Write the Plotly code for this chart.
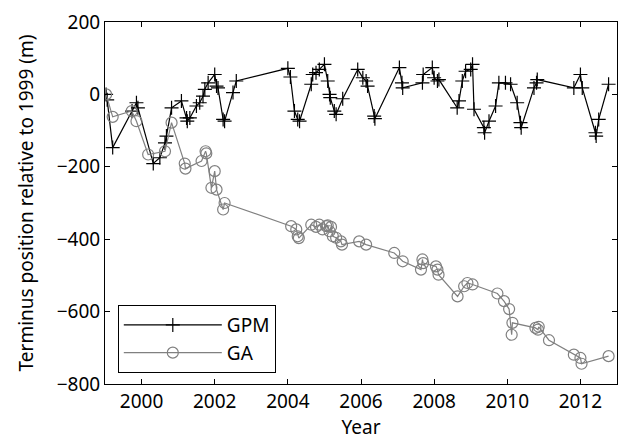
import plotly.graph_objects as go

# GPM series (year, terminus position in m)
gpm_year = [1999.03, 1999.06, 1999.21, 1999.74, 1999.86, 1999.90, 2000.32, 2000.50, 2000.64, 2000.68,
            2000.82, 2001.09, 2001.23, 2001.25, 2001.32, 2001.50, 2001.59, 2001.68, 2001.73, 2001.82,
            2002.00, 2002.05, 2002.09, 2002.23, 2002.27, 2002.50, 2002.59, 2004.00, 2004.07, 2004.18,
            2004.27, 2004.32, 2004.64, 2004.68, 2004.77, 2004.86, 2005.00, 2005.09, 2005.14, 2005.16,
            2005.27, 2005.32, 2005.50, 2005.91, 2006.05, 2006.14, 2006.18, 2006.36, 2006.38, 2007.05,
            2007.12, 2007.14, 2007.68, 2007.70, 2007.95, 2008.00, 2008.09, 2008.13, 2008.63, 2008.68,
            2008.77, 2008.86, 2009.00, 2009.05, 2009.09, 2009.36, 2009.38, 2009.50, 2009.68, 2009.77,
            2009.95, 2010.09, 2010.27, 2010.36, 2010.38, 2010.73, 2010.80, 2010.82, 2011.82, 2012.00,
            2012.05, 2012.41, 2012.43, 2012.50, 2012.77]
gpm_pos = [0, -15, -147, -46, -23, -37, -191, -175, -134, -115,
           -37, -18, -65, -74, -65, -32, -23, -5, 14, 32,
           55, 23, 18, -69, -74, 5, 37, 72, 48, -46,
           -69, -74, 28, 55, 60, 69, 83, 37, 0, -9,
           -46, -55, -12, 69, 46, 37, 23, -60, -67, 74,
           32, 18, 32, 55, 74, 46, 37, 41, -37, -18,
           37, 64, 69, 83, -41, -92, -106, -74, -32, 32,
           32, 28, -23, -78, -92, 18, 32, 41, 18, 55,
           18, -106, -115, -69, 28]

# GA series
ga_year = [1999.03, 1999.21, 1999.73, 1999.86, 2000.18, 2000.64, 2000.82, 2001.18, 2001.20, 2001.64,
           2001.75, 2001.77, 2001.91, 2002.00, 2002.05, 2002.23, 2002.27, 2004.09, 2004.23, 2004.27,
           2004.30, 2004.64, 2004.77, 2004.86, 2004.95, 2005.05, 2005.09, 2005.14, 2005.18, 2005.23,
           2005.32, 2005.45, 2005.48, 2005.95, 2006.14, 2006.91, 2007.14, 2007.64, 2007.68, 2007.70,
           2008.05, 2008.09, 2008.12, 2008.64, 2008.82, 2008.91, 2009.05, 2009.73, 2009.91, 2010.05,
           2010.12, 2010.14, 2010.77, 2010.84, 2010.86, 2011.14, 2011.82, 2012.00, 2012.03, 2012.77]
ga_pos = [0, -62, -46, -74, -166, -157, -78, -191, -205, -184,
          -157, -163, -258, -212, -263, -318, -300, -364, -373, -392,
          -397, -360, -366, -360, -373, -364, -362, -378, -366, -392,
          -396, -406, -415, -406, -415, -438, -461, -484, -456, -466,
          -475, -484, -498, -558, -530, -521, -525, -550, -571, -593,
          -664, -631, -645, -650, -642, -679, -719, -728, -744, -723]

x_ticks = [2000, 2002, 2004, 2006, 2008, 2010, 2012]
y_ticks = [200, 0, -200, -400, -600, -800]

FONT = "Noto Sans"

fig = go.Figure()
fig.add_trace(go.Scatter(
    x=gpm_year, y=gpm_pos, name="GPM", mode="lines+markers",
    line=dict(color="black", width=1.2),
    marker=dict(symbol="cross-thin", size=10, line=dict(color="black", width=1.2)),
))
fig.add_trace(go.Scatter(
    x=ga_year, y=ga_pos, name="GA", mode="lines+markers",
    line=dict(color="rgb(128,128,128)", width=1.2),
    marker=dict(symbol="circle-open", size=11, color="rgb(128,128,128)",
                line=dict(color="rgb(128,128,128)", width=1.2)),
))

axis_common = dict(
    showgrid=False, zeroline=False, showline=True, linecolor="black", linewidth=1,
    mirror="ticks", ticks="inside", ticklen=5, tickcolor="black", tickwidth=1,
    tickfont=dict(family=FONT, size=19, color="black"),
)
fig.update_xaxes(range=[1999, 2013], tickvals=x_ticks, ticktext=[str(v) for v in x_ticks],
                 title=dict(text="Year", font=dict(family=FONT, size=19, color="black"), standoff=4),
                 **axis_common)
fig.update_yaxes(range=[-800, 200], tickvals=y_ticks,
                 ticktext=[("\u2212" + str(-v)) if v < 0 else str(v) for v in y_ticks],
                 title=dict(text="Terminus position relative to 1999 (m)",
                            font=dict(family=FONT, size=19, color="black"), standoff=18),
                 **axis_common)

fig.update_layout(
    width=619, height=443,
    margin=dict(l=105, r=2, t=22, b=59),
    plot_bgcolor="white", paper_bgcolor="white",
    font=dict(family=FONT, size=19, color="black"),
    legend=dict(x=0.025, y=0.218, xanchor="left", yanchor="top",
                bordercolor="black", borderwidth=1, bgcolor="white",
                itemwidth=98,
                font=dict(family=FONT, size=19, color="black"),
                tracegroupgap=0),
    showlegend=True,
)

fig.write_html("out.html", config={"displayModeBar": False},
               post_script="document.body.style.margin='0';document.body.style.overflow='hidden';")
